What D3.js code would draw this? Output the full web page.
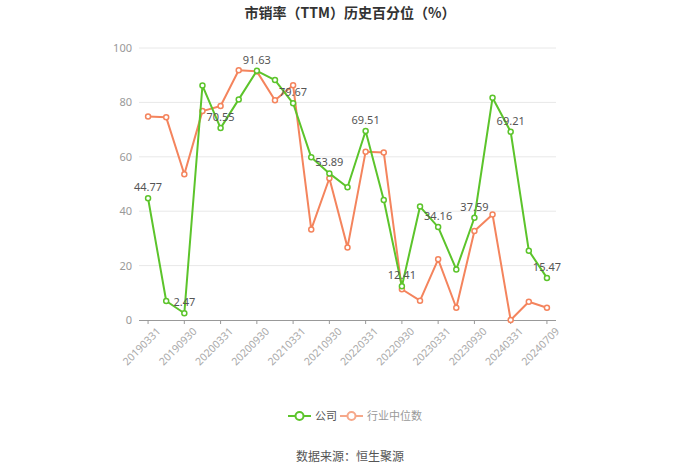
<!DOCTYPE html>
<html><head><meta charset="utf-8">
<script src="https://cdn.jsdelivr.net/npm/d3@7"></script>
<style>body{margin:0;background:#fff;}svg{display:block;font-family:"Noto Sans CJK SC","Noto Sans",sans-serif;}</style>
</head><body>
<svg id="c" width="700" height="474"></svg>
<script>
const categories = ["20190331","20190630","20190930","20191231","20200331","20200630","20200930","20201231","20210331","20210630","20210930","20211231","20220331","20220630","20220930","20221231","20230331","20230630","20230930","20231231","20240331","20240630","20240709"];
const companyValues = [44.77,7.0,2.47,86.2,70.55,81.1,91.63,88.2,79.67,59.8,53.89,48.8,69.51,44.1,12.41,41.7,34.16,18.6,37.59,81.7,69.21,25.5,15.47];
const industryValues = [74.8,74.5,53.6,76.8,78.7,91.8,91.4,80.8,86.3,33.3,52.1,26.7,61.9,61.6,11.3,7.1,22.3,4.5,32.7,38.8,0.0,6.7,4.5];
const yTicks = [0,20,40,60,80,100];
const seriesNames = ["公司","行业中位数"];
const title = "市销率（TTM）历史百分位（%）";
const source = "数据来源：恒生聚源";

const green = "#5cc42b", orange = "#f4845d";
const svg = d3.select("#c");
const L = 139, R = 556, T = 48, B = 320;

const x = d3.scaleBand().domain(categories).range([L, R]);
const cx = d => x(d) + x.bandwidth()/2;
const y = d3.scaleLinear().domain([0,100]).range([B, T]);

svg.append("text").attr("x",350).attr("y",18).attr("text-anchor","middle")
  .attr("font-size",14).attr("font-weight","bold").attr("fill","#333").text(title);

// grid
svg.append("g").selectAll("line").data(yTicks.filter(t=>t>0)).join("line")
  .attr("x1",L).attr("x2",R).attr("y1",d=>y(d)).attr("y2",d=>y(d))
  .attr("stroke","#e8e8e8").attr("stroke-width",1);

// y axis labels
const yAxis = d3.axisLeft(y).tickValues(yTicks).tickSize(0).tickPadding(7);
const yg = svg.append("g").attr("transform",`translate(${L},0)`).call(yAxis);
yg.select(".domain").remove();
yg.selectAll("text").attr("font-size",11).attr("fill","#999").attr("font-family","'Noto Sans',sans-serif");

// x axis
const labelCats = categories.filter((d,i)=>i%2===0);
const xAxis = d3.axisBottom(x).tickValues(labelCats).tickSize(4).tickSizeOuter(0).tickPadding(4);
const xg = svg.append("g").attr("transform",`translate(0,${B})`).call(xAxis);
xg.select(".domain").attr("stroke","#999").attr("d",`M${L},0.5H${R}`);
xg.selectAll(".tick line").attr("stroke","#999");
xg.selectAll("text").attr("font-size",10.5).attr("fill","#aaa").attr("font-family","'Noto Sans',sans-serif")
  .attr("text-anchor","end").attr("transform","translate(3,2) rotate(-45)").attr("dy","0.6em");

function drawSeries(vals, color, labels){
  const line = d3.line().x((d,i)=>cx(categories[i])).y(d=>y(d));
  svg.append("path").datum(vals).attr("d",line).attr("fill","none")
    .attr("stroke",color).attr("stroke-width",2).attr("stroke-linejoin","round");
  svg.append("g").selectAll("circle").data(vals).join("circle")
    .attr("cx",(d,i)=>cx(categories[i])).attr("cy",d=>y(d)).attr("r",2.5)
    .attr("fill","#fff").attr("stroke",color).attr("stroke-width",1.5);
  if(labels){
    svg.append("g").selectAll("text").data(vals.map((v,i)=>({v,i})).filter(o=>o.i%2===0)).join("text")
      .attr("x",o=>cx(categories[o.i])).attr("y",o=>y(o.v)-7)
      .attr("text-anchor","middle").attr("font-size",11).attr("fill","#555")
      .attr("font-family","'Noto Sans',sans-serif").text(o=>o.v.toFixed(2));
  }
}
drawSeries(industryValues, orange, false);
drawSeries(companyValues, green, true);

// legend
const leg = [{n:seriesNames[0],c:green,x:288,tc:"#555"},{n:seriesNames[1],c:"#f6a88a",x:340,tc:"#999"}];
leg.forEach(l=>{
  const g = svg.append("g");
  g.append("line").attr("x1",l.x).attr("x2",l.x+23).attr("y1",416).attr("y2",416).attr("stroke",l.c).attr("stroke-width",2);
  g.append("circle").attr("cx",l.x+11.5).attr("cy",416).attr("r",4).attr("fill","#fff").attr("stroke",l.c).attr("stroke-width",2);
  g.append("text").attr("x",l.x+27).attr("y",420).attr("font-size",11).attr("fill",l.tc).text(l.n);
});

svg.append("text").attr("x",350).attr("y",461).attr("text-anchor","middle")
  .attr("font-size",12).attr("fill","#555").text(source);
</script>
</body></html>
